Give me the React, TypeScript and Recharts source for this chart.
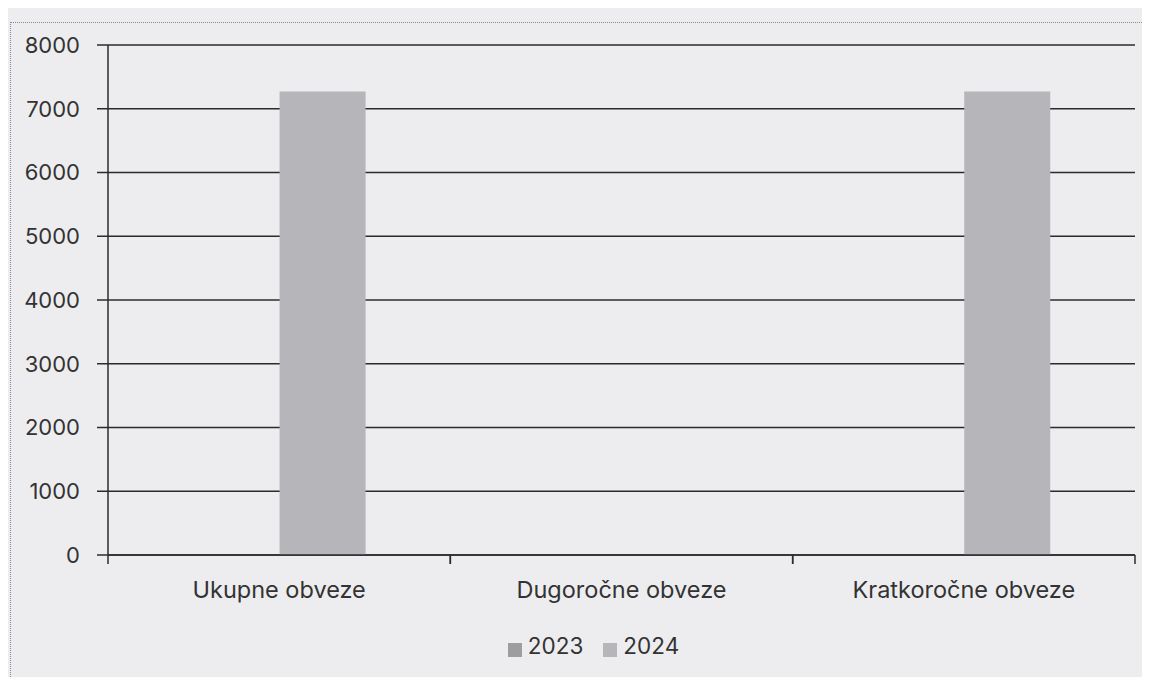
import { BarChart, Bar, XAxis, YAxis, CartesianGrid, Legend } from "recharts";

const categories = ["Ukupne obveze", "Dugoročne obveze", "Kratkoročne obveze"];
const values2023 = [0, 0, 0];
const values2024 = [7270, 0, 7270];
const yTicks = [0, 1000, 2000, 3000, 4000, 5000, 6000, 7000, 8000];

const data = categories.map((name, i) => ({
  name,
  "2023": values2023[i],
  "2024": values2024[i],
}));

const INK = "#2b2b2b";
const TEXT = "#333333";
const LABEL_GAP = 26;

// category label plus the boundary tick marks on both sides of the band
function CategoryTick(props: any) {
  const { x, y, payload } = props;
  const half = payload?.offset ?? 0;
  const axisY = y - LABEL_GAP;
  return (
    <g>
      <line x1={x - half} x2={x - half} y1={axisY} y2={axisY + 9} stroke={INK} strokeWidth={1.5} />
      <line x1={x + half} x2={x + half} y1={axisY} y2={axisY + 9} stroke={INK} strokeWidth={1.5} />
      <text x={x} y={y} dy="0.71em" textAnchor="middle" fill={TEXT} fontSize={23.5}>
        {payload.value}
      </text>
    </g>
  );
}

export default function App() {
  return (
    <div
      style={{
        position: "relative",
        width: 1150,
        height: 685,
        margin: -8,
        background: "#ededf0",
        fontFamily: "Inter, 'Noto Sans', sans-serif",
      }}
    >
      <div
        style={{
          position: "absolute",
          left: 10,
          top: 22,
          width: 1138,
          height: 661,
          border: "1px dotted #8a8a8a",
          boxSizing: "border-box",
        }}
      />
      <BarChart
        width={1150}
        height={685}
        data={data}
        margin={{ top: 45, right: 15, bottom: 70, left: 0 }}
        barCategoryGap="25%"
        barGap={0}
        style={{ position: "absolute", left: 0, top: 0 }}
      >
        <CartesianGrid vertical={false} stroke={INK} strokeWidth={1.5} strokeDasharray="" />
        <XAxis
          dataKey="name"
          height={30}
          axisLine={{ stroke: INK, strokeWidth: 1.5 }}
          tickLine={false}
          tickSize={0}
          tickMargin={LABEL_GAP}
          tick={<CategoryTick />}
          interval={0}
        />
        <YAxis
          width={108}
          domain={[0, 8000]}
          ticks={yTicks}
          interval={0}
          axisLine={{ stroke: INK, strokeWidth: 1.5 }}
          tickLine={{ stroke: INK, strokeWidth: 1.5 }}
          tickSize={11}
          tickMargin={17}
          tick={{ fill: TEXT, fontSize: 22 }}
        />
        <Legend
          verticalAlign="bottom"
          align="center"
          iconType="square"
          iconSize={14}
          height={30}
          wrapperStyle={{ bottom: 23, left: 36 }}
          formatter={(value) => (
            <span style={{ color: TEXT, fontSize: 22.5, marginLeft: 2, marginRight: 10 }}>{value}</span>
          )}
        />
        <Bar dataKey="2023" fill="#9d9da0" isAnimationActive={false} />
        <Bar dataKey="2024" fill="#b5b5ba" isAnimationActive={false} />
      </BarChart>
    </div>
  );
}
